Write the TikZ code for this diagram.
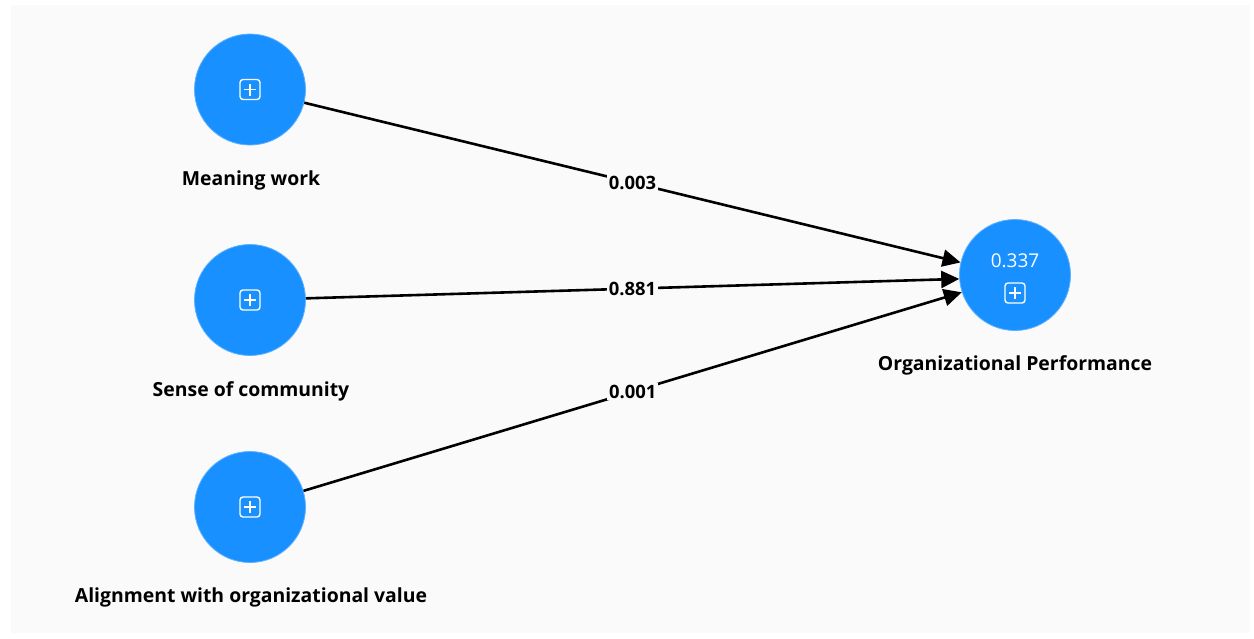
\documentclass[tikz,border=0pt]{standalone}
\usepackage{fontspec}
\setmainfont{Open Sans}
\usetikzlibrary{arrows.meta}
\definecolor{panel}{HTML}{FAFAFA}
\definecolor{latent}{HTML}{1890FF}
\newcommand{\plusicon}[2]{%
\draw[white,line width=0.7pt,rounded corners=1.5pt] (#1-10,#2-10) rectangle (#1+10,#2+10);
\draw[white,line width=0.7pt] (#1-6,#2) -- (#1+6,#2) (#1,#2-6) -- (#1,#2+6);}
\begin{document}
\begin{tikzpicture}[x=0.5pt,y=-0.5pt,
  construct/.style={circle,fill=latent,draw=latent!70,minimum size=55.5pt,inner sep=0pt},
  caption/.style={font=\bfseries\fontsize{9.7}{11}\selectfont,text=black},
  coef/.style={font=\bfseries\fontsize{9.2}{10}\selectfont,fill=panel,inner sep=1pt},
  path/.style={line width=1.3pt,-{Triangle[length=9pt,width=8.5pt]}}]
\useasboundingbox (0,0) rectangle (1254,638);
\fill[panel] (11,5) rectangle (1250,633);
% constructs
\node[construct] (mw) at (250,89.5) {};
\node[construct] (sc) at (250,300) {};
\node[construct] (av) at (250,507) {};
\node[construct] (op) at (1015,275) {};
\plusicon{250}{89.5}
\plusicon{250}{300}
\plusicon{250}{507}
\plusicon{1015}{293}
\node[font=\fontsize{9.5}{10}\selectfont,text=white] (r2) at (1015,261) {0.337};
% captions
\node[caption] (mwl) at (251,180) {Meaning work};
\node[caption] (scl) at (251,391) {Sense of community};
\node[caption] (avl) at (251,597) {Alignment with organizational value};
\node[caption] (opl) at (1015,365) {Organizational Performance};
% paths
\draw[path] (mw) -- (op.167) node[coef,midway] {0.003};
\draw[path] (sc) -- (op.184) node[coef,midway] {0.881};
\draw[path] (av) -- (op.198) node[coef,midway] {0.001};
\end{tikzpicture}
\end{document}
